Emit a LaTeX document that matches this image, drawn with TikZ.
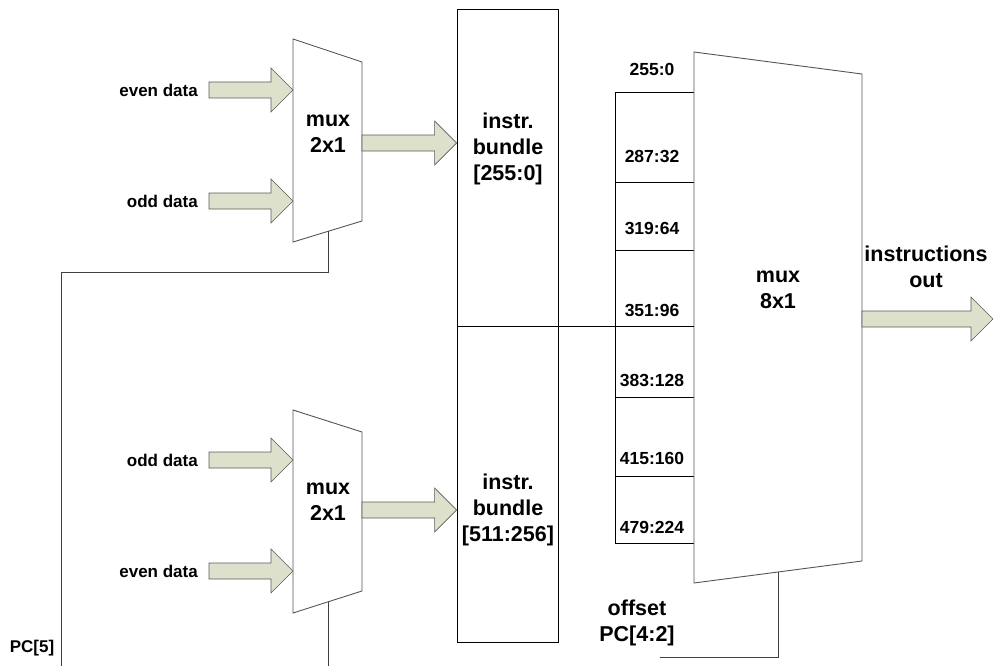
\documentclass[tikz,border=0pt]{standalone}
\usepackage{fontspec}
\setmainfont{Liberation Sans}
\usepackage{tikz}
\usetikzlibrary{calc,positioning,fit}
\definecolor{arrFill}{HTML}{DDE0CB}
\definecolor{arrEdge}{HTML}{5A5A5A}
\definecolor{muxGray}{HTML}{555555}

% wide block arrow from #1 to the tip #2 (same height)
\newcommand{\fatarrow}[2]{%
  \draw[fat] ($(#1)+(0,-8)$) -- ($(#2)+(-22,-8)$) -- ($(#2)+(-22,-22)$) -- (#2)
    -- ($(#2)+(-22,22)$) -- ($(#2)+(-22,8)$) -- ($(#1)+(0,8)$) -- cycle;}

\begin{document}
\begin{tikzpicture}[
  x=1pt, y=-1pt,
  lbl/.style={font=\fontsize{17}{20}\selectfont\bfseries, inner sep=0pt},
  slot/.style={font=\fontsize{17.5}{20}\selectfont\bfseries, inner sep=0pt},
  big/.style={font=\fontsize{21.5}{26}\selectfont\bfseries, align=center, inner sep=0pt},
  muxline/.style={draw=muxGray, line width=0.9pt, fill=white, line join=miter},
  box/.style={draw=black, line width=0.8pt},
  fat/.style={draw=arrEdge, fill=arrFill, line width=0.6pt, line join=miter},
  sel/.style={draw=black!75, line width=0.9pt},
]
\useasboundingbox (0,0) rectangle (995,666);

% Top 2x1 mux
\coordinate (muxA-nw) at (293,39);
\coordinate (muxA-ne) at (362,62);
\coordinate (muxA-se) at (362,221);
\coordinate (muxA-sw) at (293,242);
\draw[muxline] (muxA-nw) -- (muxA-ne) -- (muxA-se) -- (muxA-sw) -- cycle;
\node[big] (muxA) at (328,134) {mux\\2x1};

\coordinate (inA1) at (209,90);
\coordinate (inA2) at (209,201);
\node[lbl, left=11pt of inA1] (evenA) {even data};
\node[lbl, left=11pt of inA2] (oddA) {odd data};
\fatarrow{inA1}{inA1 -| muxA-nw}
\fatarrow{inA2}{inA2 -| muxA-nw}

% Bottom 2x1 mux
\coordinate (muxB-nw) at (293,410);
\coordinate (muxB-ne) at (362,432);
\coordinate (muxB-se) at (362,591);
\coordinate (muxB-sw) at (293,613);
\draw[muxline] (muxB-nw) -- (muxB-ne) -- (muxB-se) -- (muxB-sw) -- cycle;
\node[big] (muxB) at (328,502) {mux\\2x1};

\coordinate (inB1) at (209,460);
\coordinate (inB2) at (209,571);
\node[lbl, left=11pt of inB1] (oddB) {odd data};
\node[lbl, left=11pt of inB2] (evenB) {even data};
\fatarrow{inB1}{inB1 -| muxB-nw}
\fatarrow{inB2}{inB2 -| muxB-nw}

% Instruction bundles
\node[box, fit={(457,9) (558,326)}, inner sep=0pt] (bunA) {};
\node[box, fit={(457,326) (558,642)}, inner sep=0pt] (bunB) {};
\node[big] (bunAtxt) at (508,149) {instr.\\bundle\\{}[255:0]};
\node[big] (bunBtxt) at (508,510) {instr.\\bundle\\{}[511:256]};

\coordinate (outA) at (362,143);
\coordinate (outB) at (362,510);
\fatarrow{outA}{outA -| bunA.west}
\fatarrow{outB}{outB -| bunB.west}

% Slots into the 8x1 mux
\node[slot] (slot0) at (652,69) {255:0};
\foreach \ya/\yb/\ly/\txt [count=\i] in {92/182/156/287:32, 182/250/228/319:64,
    250/326/310/351:96, 326/397/380/383:128, 397/476/458/415:160, 476/543/527/479:224}
{
  \draw[box] (615,\ya) rectangle (694,\yb);
  \node[slot] (slot\i) at (652,\ly) {\txt};
}

% 8x1 mux
\coordinate (muxC-nw) at (694,52);
\coordinate (muxC-ne) at (862,74);
\coordinate (muxC-se) at (862,561);
\coordinate (muxC-sw) at (694,583);
\draw[muxline] (muxC-nw) -- (muxC-ne) -- (muxC-se) -- (muxC-sw) -- cycle;
\node[big] (muxC) at (778,290) {mux\\8x1};
\draw[box] (bunA.south east) -- (bunA.south east -| muxC-nw);

\coordinate (outC) at (862,319);
\coordinate (endC) at (993,319);
\fatarrow{outC}{endC}
\node[big] (instr) at (926,267) {instructions\\out};

% Select lines
\coordinate (selA) at (328,231);
\coordinate (bendA) at (61,272);
\coordinate (pcA) at (61,666);
\draw[sel] (selA) |- (bendA) -- (pcA);
\coordinate (selB) at (328,602);
\draw[sel] (selB) -- (selB |- pcA);
\node[lbl] (pc) at (32,648) {PC[5]};

\coordinate (selC) at (778,572);
\coordinate (selCend) at (660,657);
\draw[sel] (selC) |- (selCend);
\node[big] (offset) at (637,623) {offset\\PC[4:2]};

\end{tikzpicture}
\end{document}
